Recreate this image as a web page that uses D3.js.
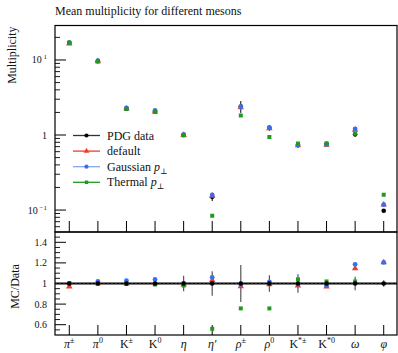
<!DOCTYPE html>
<html lang="en">
<head>
<meta charset="UTF-8">
<title>Mean multiplicity</title>
<script src="https://cdn.jsdelivr.net/npm/d3@7"></script>
<style>
  body { margin: 0; background: #fff; }
  svg text { font-family: "Liberation Serif", "DejaVu Serif", serif; fill: #111; }
</style>
</head>
<body>
<div id="chart"></div>
<script>
// meson labels: [base, italic?, superscript]
const categories = [
  ["π", true, "±"], ["π", true, "0"], ["K", false, "±"], ["K", false, "0"],
  ["η", true, ""], ["η′", true, ""], ["ρ", true, "±"], ["ρ", true, "0"],
  ["K", false, "*±"], ["K", false, "*0"], ["ω", true, ""], ["φ", true, ""]
]
const pdgData   = [17.0, 9.6, 2.24, 2.05, 1.01, 0.150, 2.40, 1.24, 0.74, 0.76, 1.02, 0.098]
const pdgErr    = [0.34, 0.19, 0.045, 0.04, 0.076, 0.018, 0.43, 0.10, 0.067, 0.023, 0.066, 0.003]
const defaultMC = [16.5, 9.6, 2.24, 2.05, 1.00, 0.155, 2.33, 1.23, 0.725, 0.737, 1.17, 0.118]
const gaussMC   = [17.0, 9.79, 2.30, 2.13, 1.01, 0.159, 2.38, 1.26, 0.735, 0.745, 1.21, 0.118]
const thermalMC = [17.0, 9.6, 2.23, 2.03, 0.99, 0.084, 1.82, 0.94, 0.77, 0.775, 1.04, 0.160]
const mainTicks = [[10, "10", "1"], [1, "1", ""], [0.1, "10", "−1"]]
const ratioTicks = [0.6, 0.8, 1, 1.2, 1.4]

const W = 398, H = 353
const L = 55, R = 397, T = 25.5, MID = 232, B = 335

const svg = d3.select('#chart').append('svg').attr('width', W).attr('height', H)

const x = d3.scaleBand().domain(d3.range(categories.length)).range([L, R + 1])
const cx = i => x(i) + x.bandwidth() / 2
const y = d3.scaleLog().domain([0.051, 28.8]).range([MID, T])
const yr = d3.scaleLinear().domain([0.5, 1.5]).range([B, MID])

const series = [
  { name: 'default', vals: defaultMC, color: '#e8402a', shape: d3.symbolTriangle, line: '#e8402a' },
  { name: 'Gaussian', vals: gaussMC, color: '#3a6ef0', shape: d3.symbolCircle, line: '#86a6f4' },
  { name: 'Thermal', vals: thermalMC, color: '#1f9a1f', shape: d3.symbolSquare, line: '#1f9a1f' }
]

svg.append('defs').append('clipPath').attr('id', 'clipR')
  .append('rect').attr('x', L).attr('y', MID).attr('width', R - L).attr('height', B - MID)

// title
svg.append('text').attr('x', L).attr('y', 15).attr('font-size', 12)
  .text('Mean multiplicity for different mesons')

// ---- upper panel ----
const up = svg.append('g')
// minor ticks
const minors = []
for (let e = -2; e <= 1; e++) for (let k = 2; k <= 9; k++) {
  const v = k * Math.pow(10, e)
  if (v > 0.051 && v < 28.8) minors.push(v)
}
up.selectAll('.mn').data(minors).enter().append('line')
  .attr('x1', L).attr('x2', L + 5).attr('y1', d => y(d)).attr('y2', d => y(d))
  .attr('stroke', '#000').attr('stroke-width', 0.9)
up.selectAll('.mj').data(mainTicks).enter().append('line')
  .attr('x1', L).attr('x2', L + 11).attr('y1', d => y(d[0])).attr('y2', d => y(d[0]))
  .attr('stroke', '#000').attr('stroke-width', 1)
const ml = up.selectAll('.ml').data(mainTicks).enter().append('text')
  .attr('x', 47).attr('y', d => y(d[0]) + 3.5).attr('text-anchor', 'end').attr('font-size', 10)
ml.append('tspan').text(d => d[1])
ml.append('tspan').attr('font-size', 7).attr('dy', -4).text(d => d[2] ? ' ' + d[2] : '')

up.selectAll('.xt').data(categories).enter().append('line')
  .attr('x1', (d, i) => cx(i)).attr('x2', (d, i) => cx(i)).attr('y1', MID - 11).attr('y2', MID)
  .attr('stroke', '#000').attr('stroke-width', 1)

up.append('text').attr('transform', `translate(16,${T + 1}) rotate(-90)`)
  .attr('text-anchor', 'end').attr('font-size', 12).text('Multiplicity')

// data error bars + markers
up.selectAll('.eb').data(pdgData).enter().append('line')
  .attr('x1', (d, i) => cx(i)).attr('x2', (d, i) => cx(i))
  .attr('y1', (d, i) => y(d + pdgErr[i])).attr('y2', (d, i) => y(d - pdgErr[i]))
  .attr('stroke', '#000').attr('stroke-width', 1)
up.selectAll('.pd').data(pdgData).enter().append('circle')
  .attr('cx', (d, i) => cx(i)).attr('cy', d => y(d)).attr('r', 2.3).attr('fill', '#000')

series.forEach(s => {
  up.selectAll('.m' + s.name).data(s.vals).enter().append('path')
    .attr('d', d3.symbol().type(s.shape).size(s.shape === d3.symbolSquare ? 16 : 18))
    .attr('transform', (d, i) => `translate(${cx(i)},${y(d)})`)
    .attr('fill', s.color)
})

// legend
const legendItems = [
  { label: 'PDG data', color: '#000', line: '#333', shape: d3.symbolCircle },
  { label: 'default', color: series[0].color, line: series[0].line, shape: series[0].shape },
  { label: 'Gaussian', color: series[1].color, line: series[1].line, shape: series[1].shape, pt: true },
  { label: 'Thermal', color: series[2].color, line: series[2].line, shape: series[2].shape, pt: true }
]
const lg = up.selectAll('.lg').data(legendItems).enter().append('g')
  .attr('transform', (d, i) => `translate(0,${135.5 + i * 15.6})`)
lg.append('line').attr('x1', 73).attr('x2', 100).attr('stroke', d => d.line).attr('stroke-width', 1.3)
lg.append('path').attr('d', d => d3.symbol().type(d.shape).size(d.shape === d3.symbolSquare ? 12 : 14)())
  .attr('transform', 'translate(86.5,0)').attr('fill', d => d.color)
const lt = lg.append('text').attr('x', 107).attr('y', 4).attr('font-size', 12)
lt.append('tspan').text(d => d.label)
lt.filter(d => d.pt).append('tspan').attr('font-style', 'italic').text(' p')
lt.filter(d => d.pt).append('tspan').attr('font-size', 8).attr('dy', 3).text('⊥')

up.append('rect').attr('x', L).attr('y', T).attr('width', R - L).attr('height', MID - T)
  .attr('fill', 'none').attr('stroke', '#000').attr('stroke-width', 1.2)

// ---- ratio panel ----
const lo = svg.append('g')
const rMinors = d3.range(0.55, 1.5, 0.05).filter(v => Math.abs(v * 5 - Math.round(v * 5)) > 0.01)
lo.selectAll('.rmn').data(rMinors).enter().append('line')
  .attr('x1', L).attr('x2', L + 5).attr('y1', d => yr(d)).attr('y2', d => yr(d))
  .attr('stroke', '#000').attr('stroke-width', 0.9)
lo.selectAll('.rmj').data(ratioTicks).enter().append('line')
  .attr('x1', L).attr('x2', L + 11).attr('y1', d => yr(d)).attr('y2', d => yr(d))
  .attr('stroke', '#000').attr('stroke-width', 1)
lo.selectAll('.rl').data(ratioTicks).enter().append('text')
  .attr('x', 47).attr('y', d => yr(d) + 3.5).attr('text-anchor', 'end').attr('font-size', 10)
  .text(d => d === 1 ? '1' : d.toFixed(1))
lo.selectAll('.rxt').data(categories).enter().append('line')
  .attr('x1', (d, i) => cx(i)).attr('x2', (d, i) => cx(i)).attr('y1', B - 10).attr('y2', B)
  .attr('stroke', '#000').attr('stroke-width', 1)

lo.append('text').attr('transform', `translate(19,${(MID + B) / 2 + 3}) rotate(-90)`)
  .attr('text-anchor', 'middle').attr('font-size', 12).text('MC/Data')

const rp = lo.append('g').attr('clip-path', 'url(#clipR)')
rp.append('line').attr('x1', L).attr('x2', R).attr('y1', yr(1)).attr('y2', yr(1))
  .attr('stroke', '#000').attr('stroke-width', 2.2)
rp.append('line').attr('x1', L).attr('x2', R).attr('y1', yr(1)).attr('y2', yr(1))
  .attr('stroke', '#1f5a1f').attr('stroke-width', 0.6).attr('stroke-dasharray', '2,2')

rp.selectAll('.reb').data(pdgData).enter().append('line')
  .attr('x1', (d, i) => cx(i)).attr('x2', (d, i) => cx(i))
  .attr('y1', (d, i) => yr(1 + pdgErr[i] / d)).attr('y2', (d, i) => yr(1 - pdgErr[i] / d))
  .attr('stroke', '#555').attr('stroke-width', 1.2)

series.forEach(s => {
  rp.selectAll('.r' + s.name).data(s.vals).enter().append('path')
    .attr('d', d3.symbol().type(s.shape).size(s.shape === d3.symbolSquare ? 16 : 18))
    .attr('transform', (d, i) => `translate(${cx(i)},${yr(d / pdgData[i])})`)
    .attr('fill', s.color)
})
rp.selectAll('.rpd').data(pdgData).enter().append('circle')
  .attr('cx', (d, i) => cx(i)).attr('cy', yr(1)).attr('r', 2.3).attr('fill', '#000')

lo.append('rect').attr('x', L).attr('y', MID).attr('width', R - L).attr('height', B - MID)
  .attr('fill', 'none').attr('stroke', '#000').attr('stroke-width', 1.2)

// x labels
const xl = lo.selectAll('.xl').data(categories).enter().append('text')
  .attr('x', (d, i) => cx(i)).attr('y', 348).attr('text-anchor', 'middle').attr('font-size', 12)
xl.append('tspan').attr('font-style', d => d[1] ? 'italic' : 'normal').text(d => d[0])
xl.append('tspan').attr('font-size', 8).attr('dy', -5).text(d => d[2])
</script>
</body>
</html>
